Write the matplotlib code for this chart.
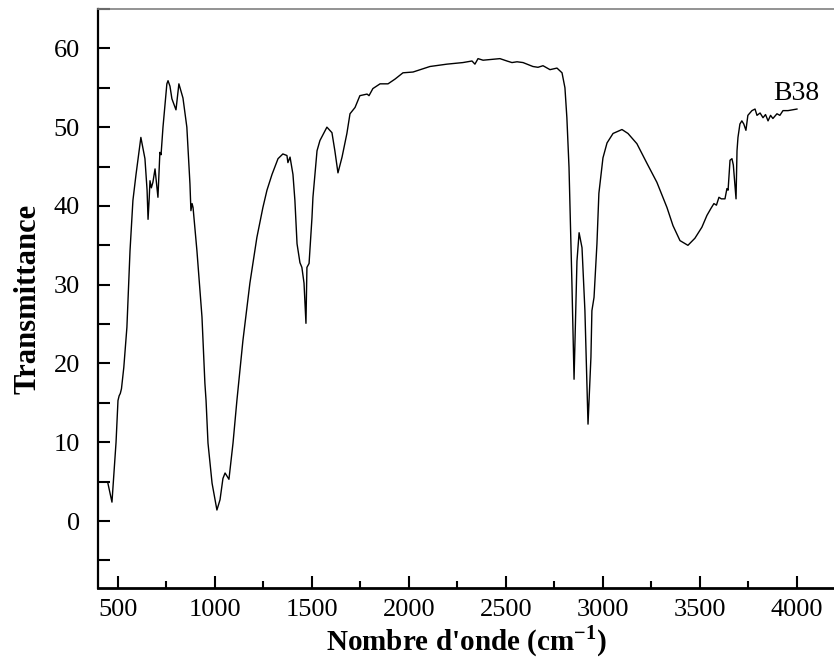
import numpy as np
import matplotlib
matplotlib.use('Agg')
import matplotlib.pyplot as plt
from matplotlib.ticker import MultipleLocator

# FTIR spectrum of sample B38
wavenumber = [448, 469, 490, 500, 506, 512, 518, 530, 546, 562, 577, 593, 618, 639, 650,
              655, 661, 665, 672, 680, 691, 706, 716, 722, 732, 752, 758, 768, 778, 799,
              814, 835, 855, 871, 876, 882, 887, 907, 933, 948, 954, 964, 985, 1010,
              1026, 1041, 1052, 1072, 1093, 1113, 1144, 1180, 1216, 1247, 1268, 1294,
              1325, 1350, 1371, 1376, 1387, 1402, 1412, 1418, 1423, 1438, 1448, 1459,
              1469, 1474, 1485, 1500, 1505, 1526, 1541, 1577, 1603, 1618, 1634, 1655,
              1680, 1696, 1722, 1747, 1784, 1794, 1814, 1851, 1892, 1928, 1969, 2021,
              2108, 2196, 2278, 2325, 2340, 2356, 2382, 2469, 2505, 2531, 2557, 2588,
              2639, 2665, 2691, 2727, 2763, 2789, 2804, 2814, 2825, 2840, 2851, 2866,
              2877, 2892, 2907, 2923, 2938, 2943, 2954, 2969, 2979, 3000, 3021, 3052,
              3098, 3129, 3175, 3227, 3278, 3330, 3361, 3397, 3438, 3474, 3510, 3536,
              3557, 3572, 3585, 3598, 3610, 3629, 3639, 3645, 3655, 3665, 3672, 3686,
              3691, 3696, 3706, 3716, 3726, 3737, 3747, 3768, 3784, 3794, 3810, 3825,
              3838, 3851, 3864, 3876, 3897, 3912, 3928, 3954, 4000]
transmittance = [4.8, 2.4, 10.0, 15.3, 15.9, 16.2, 16.8, 19.5, 24.6, 34.3, 40.7, 44.0, 48.7,
                 46.0, 42.0, 38.3, 41.0, 43.2, 42.3, 43.0, 44.7, 41.1, 46.8, 46.5, 50.0,
                 55.5, 55.9, 55.2, 53.6, 52.2, 55.5, 53.7, 50.0, 42.8, 39.4, 40.3, 39.8,
                 34.3, 25.9, 17.5, 15.3, 9.9, 4.8, 1.4, 2.7, 5.4, 6.1, 5.3, 9.9, 15.3,
                 22.9, 30.2, 36.0, 39.8, 42.0, 44.0, 46.0, 46.6, 46.4, 45.5, 46.2, 44.0,
                 40.7, 37.8, 35.2, 32.8, 32.2, 30.2, 25.1, 32.2, 32.7, 38.5, 41.1, 47.0,
                 48.3, 50.0, 49.3, 47.0, 44.2, 46.2, 49.2, 51.7, 52.5, 54.0, 54.2, 54.0,
                 54.9, 55.5, 55.5, 56.1, 56.9, 57.0, 57.7, 58.0, 58.2, 58.4, 58.0, 58.7,
                 58.5, 58.7, 58.4, 58.2, 58.3, 58.2, 57.7, 57.6, 57.8, 57.3, 57.5, 56.9,
                 55.0, 51.2, 44.9, 30.2, 18.0, 33.0, 36.6, 34.7, 26.7, 12.3, 20.8, 26.7,
                 28.4, 35.2, 41.6, 46.1, 48.0, 49.2, 49.7, 49.2, 47.9, 45.4, 43.0, 39.8,
                 37.5, 35.6, 35.0, 35.9, 37.3, 38.8, 39.7, 40.3, 40.1, 41.1, 40.9, 40.9,
                 42.2, 42.0, 45.8, 46.0, 45.2, 40.9, 47.0, 48.7, 50.4, 50.8, 50.4, 49.6,
                 51.5, 52.1, 52.3, 51.5, 51.8, 51.2, 51.6, 50.8, 51.5, 51.1, 51.7, 51.5,
                 52.1, 52.1, 52.3]
sample = 'B38'

plt.rcParams['font.family'] = ['Liberation Serif', 'DejaVu Serif']
plt.rcParams['mathtext.fontset'] = 'custom'
plt.rcParams['mathtext.rm'] = 'Liberation Serif'
plt.rcParams['mathtext.bf'] = 'Liberation Serif:bold'

fig = plt.figure(figsize=(8.34, 6.6), dpi=100)
ax = fig.add_axes([98 / 834, 1 - 588 / 660, 736 / 834, 579 / 660])

ax.plot(wavenumber, transmittance, color='black', lw=1.0)
ax.text(3876, 53.4, sample, fontsize=20, ha='left', va='baseline')

ax.set_xlim(397, 4191)
ax.set_ylim(-8.5, 65)
ax.xaxis.set_major_locator(MultipleLocator(500))
ax.xaxis.set_minor_locator(MultipleLocator(250))
ax.yaxis.set_major_locator(MultipleLocator(10))
ax.yaxis.set_minor_locator(MultipleLocator(5))

ax.tick_params(which='both', direction='in', width=1.5, labelsize=19,
               top=False, right=False)
ax.tick_params(axis='x', which='major', length=8.5, pad=8)
ax.tick_params(axis='x', which='minor', length=5)
ax.tick_params(axis='y', which='both', length=8.5, pad=13)

ax.spines['right'].set_visible(False)
ax.spines['top'].set_color('#808080')
ax.spines['top'].set_linewidth(1.2)
ax.spines['left'].set_linewidth(1.6)
ax.spines['bottom'].set_linewidth(2.0)

ax.set_xlabel("Nombre d'onde (cm$^{\\mathbf{-1}}$)", fontsize=21, fontweight='bold', labelpad=2)
ax.set_ylabel('Transmittance', fontsize=22, fontweight='bold', labelpad=8)

fig.savefig('out.png', dpi=100)
